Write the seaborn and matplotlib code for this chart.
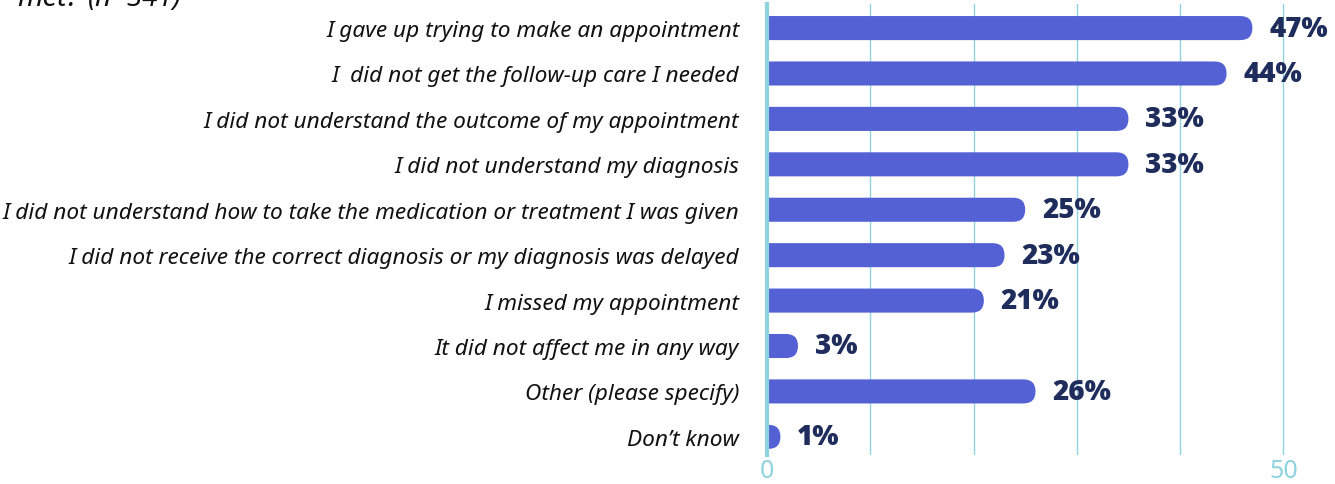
import matplotlib
matplotlib.use("Agg")
import matplotlib.pyplot as plt
import seaborn as sns
import pandas as pd
from matplotlib.patches import FancyBboxPatch

categories = [
    "I gave up trying to make an appointment",
    "I  did not get the follow-up care I needed",
    "I did not understand the outcome of my appointment",
    "I did not understand my diagnosis",
    "I did not understand how to take the medication or treatment I was given",
    "I did not receive the correct diagnosis or my diagnosis was delayed",
    "I missed my appointment",
    "It did not affect me in any way",
    "Other (please specify)",
    "Don\u2019t know",
]
# bar lengths as drawn in the picture
values = [47, 44.5, 35, 35, 25, 23, 21, 3, 26, 1.3]
labels = ["47%", "44%", "33%", "33%", "25%", "23%", "21%", "3%", "26%", "1%"]

BAR = "#5361d4"
TEXT = "#1f2d5c"
GRID = "#8fd3de"

sns.set_theme(style="white")
plt.rcParams["font.family"] = ["Noto Sans", "DejaVu Sans"]

df = pd.DataFrame({"category": categories, "value": values})

fig = plt.figure(figsize=(13.35, 4.85), dpi=100)
ax = fig.add_axes([767 / 1335, 1 - 456 / 485, 1 - 767 / 1335, 451 / 485])

sns.barplot(data=df, x="value", y="category", color=BAR, width=0.53,
            saturation=1, ax=ax)

ax.set_xlim(0, 55)
ax.set_ylim(9.4, -0.53)

# swap flat bars for bars with a rounded right end
px_x = ax.get_window_extent().width / 55
px_y = ax.get_window_extent().height / 9.93
aspect = px_x / px_y
for p in list(ax.patches):
    x0, y0 = p.get_x(), p.get_y()
    w, h = p.get_width(), p.get_height()
    p.set_visible(False)
    r = (h / 2) / aspect
    box = FancyBboxPatch((x0 - 3, y0), w + 3, h,
                         boxstyle=f"round,pad=0,rounding_size={r}",
                         mutation_aspect=aspect, facecolor=BAR,
                         edgecolor="none", clip_on=True, zorder=2)
    ax.add_patch(box)

for i, (v, lab) in enumerate(zip(values, labels)):
    ax.annotate(lab, (v, i), xytext=(12, 0), textcoords="offset points",
                ha="left", va="center", fontsize=20, fontweight="heavy",
                color=TEXT, family=["Open Sans", "DejaVu Sans"],
                annotation_clip=False)

ax.set_xticks(range(0, 51, 10))
ax.set_xticklabels(["0", "", "", "", "", "50"])
ax.tick_params(axis="x", length=0, labelsize=18, labelcolor=GRID, pad=2)
ax.tick_params(axis="y", length=0, labelsize=16.3, pad=20)
for t in ax.get_yticklabels():
    t.set_fontstyle("italic")
    t.set_color("#111111")
ax.xaxis.grid(True, color=GRID, linewidth=1)
ax.set_axisbelow(True)
ax.set_xlabel("")
ax.set_ylabel("")
for s in ["top", "right", "bottom"]:
    ax.spines[s].set_visible(False)
ax.spines["left"].set_color(GRID)
ax.spines["left"].set_linewidth(3)
ax.spines["left"].set_zorder(3)

# title is cut off by the top edge of the image
fig.text(17 / 1335, 1 - 6 / 485, "met?", fontsize=21, fontweight="heavy",
         fontstyle="italic", va="baseline", ha="left", color="#111111")
fig.text(88 / 1335, 1 - 6 / 485, "(n=341)", fontsize=20,
         fontstyle="italic", va="baseline", ha="left", color="#111111")

fig.savefig("out.png", dpi=100)
